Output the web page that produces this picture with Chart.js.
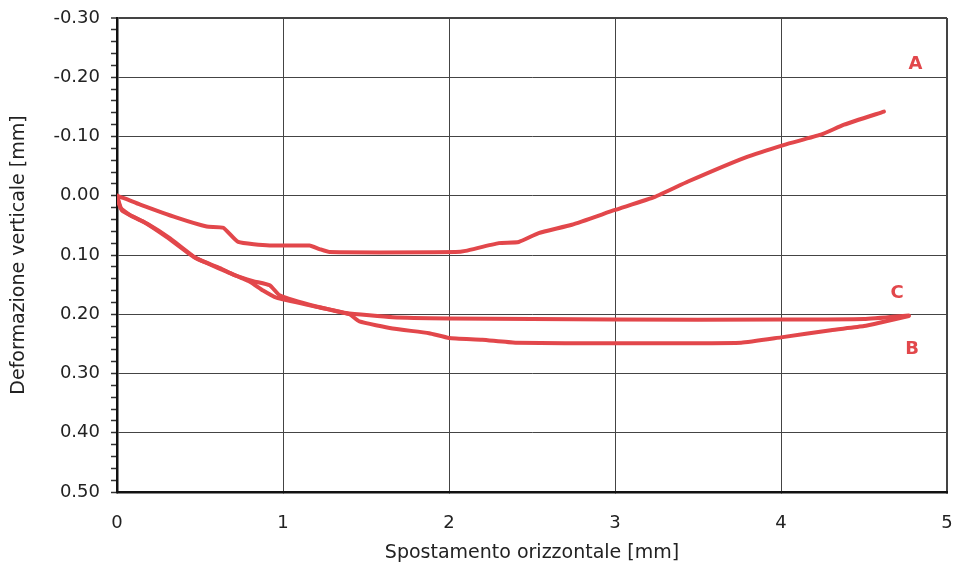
<!DOCTYPE html>
<html>
<head>
<meta charset="utf-8">
<script src="https://cdn.jsdelivr.net/npm/chart.js@4/dist/chart.umd.min.js"></script>
<style>
  html, body { margin: 0; padding: 0; background: #fff; }
  #wrap { width: 968px; height: 569px; position: relative; }
</style>
</head>
<body>
<div id="wrap"><canvas id="chart"></canvas></div>
<script>
// curve A (upper)
const xA = [0, 0.05, 0.14, 0.36, 0.54, 0.64, 0.73, 0.92, 1.16, 1.22, 1.28, 2.04, 2.1, 2.3, 2.42, 2.54, 2.74, 3.0, 3.24, 3.44, 3.78, 4.02, 4.24, 4.38, 4.62];
const yA = [0, 0.005, 0.015, 0.037, 0.052, 0.054, 0.078, 0.084, 0.084, 0.09, 0.095, 0.095, 0.093, 0.080, 0.078, 0.063, 0.049, 0.024, 0.002, -0.024, -0.064, -0.086, -0.103, -0.120, -0.142];

// curve B (lower)
const xB = [0, 0.02, 0.08, 0.16, 0.30, 0.46, 0.56, 0.66, 0.80, 0.88, 0.96, 1.16, 1.30, 1.40, 1.46, 1.66, 1.88, 2.0, 2.2, 2.4, 3.0, 3.76, 4.0, 4.3, 4.5, 4.6, 4.77];
const yB = [0, 0.02, 0.033, 0.044, 0.070, 0.103, 0.116, 0.128, 0.145, 0.160, 0.172, 0.185, 0.193, 0.200, 0.212, 0.224, 0.232, 0.240, 0.243, 0.248, 0.249, 0.248, 0.239, 0.227, 0.220, 0.214, 0.203];

// curve C (middle)
const xC = [0, 0.03, 0.10, 0.18, 0.32, 0.48, 0.62, 0.70, 0.82, 0.92, 0.98, 1.20, 1.38, 1.66, 2.0, 3.0, 4.0, 4.5, 4.77];
const yC = [0, 0.025, 0.036, 0.047, 0.072, 0.106, 0.122, 0.133, 0.144, 0.151, 0.168, 0.187, 0.198, 0.205, 0.207, 0.209, 0.209, 0.208, 0.202];

// curve letters, in data units
const labelText = ['A', 'C', 'B'];
const labelX = [4.81, 4.70, 4.79];
const labelY = [-0.222, 0.164, 0.26];

const xTicks = [0, 1, 2, 3, 4, 5];

const RED = '#e2474b';
const FONT = "'DejaVu Sans', sans-serif";

function toPoints(xs, ys) {
    return xs.map((x, i) => ({ x: x, y: ys[i] }));
}

function isMajor(v) {
    return Math.abs(Math.round(v * 100)) % 10 === 0;
}

const curveLabels = {
    id: 'curveLabels',
    afterDatasetsDraw(chart) {
        const ctx = chart.ctx;
        const sx = chart.scales.x, sy = chart.scales.y;
        ctx.save();
        ctx.fillStyle = RED;
        ctx.font = "bold 18px " + FONT;
        ctx.textAlign = 'center';
        ctx.textBaseline = 'middle';
        labelText.forEach((t, i) => {
            ctx.fillText(t, sx.getPixelForValue(labelX[i]), sy.getPixelForValue(labelY[i]));
        });
        ctx.restore();
    }
};

const lineStyle = {
    showLine: true,
    borderColor: RED,
    backgroundColor: RED,
    borderWidth: 4,
    pointRadius: 0,
    tension: 0.15,
    borderCapStyle: 'round',
    borderJoinStyle: 'round'
};

new Chart(document.getElementById('chart').getContext('2d'), {
    type: 'scatter',
    data: {
        datasets: [
            Object.assign({ label: 'A', data: toPoints(xA, yA) }, lineStyle),
            Object.assign({ label: 'B', data: toPoints(xB, yB) }, lineStyle),
            Object.assign({ label: 'C', data: toPoints(xC, yC) }, lineStyle)
        ]
    },
    options: {
        responsive: true,
        maintainAspectRatio: false,
        animation: false,
        layout: { padding: { top: 18, right: 21, left: 0, bottom: 0 } },
        plugins: {
            legend: { display: false },
            tooltip: { enabled: false }
        },
        scales: {
            x: {
                type: 'linear',
                min: 0,
                max: 5,
                afterBuildTicks: (scale) => { scale.ticks = xTicks.map(v => ({ value: v })); },
                afterFit: (scale) => {
                    scale.height = 77;
                    scale.paddingLeft = 0;
                    scale.paddingRight = 0;
                },
                ticks: {
                    color: '#222',
                    font: { family: FONT, size: 18 },
                    padding: 21,
                    maxRotation: 0
                },
                grid: {
                    color: '#444',
                    lineWidth: (c) => (c.tick && c.tick.value === 5 ? 2 : 1),
                    tickLength: 0
                },
                border: { color: '#111', width: 2.5 },
                title: {
                    display: true,
                    text: 'Spostamento orizzontale [mm]',
                    color: '#222',
                    font: { family: FONT, size: 19 },
                    padding: { top: 0, bottom: 5 }
                }
            },
            y: {
                type: 'linear',
                reverse: true,
                min: -0.3,
                max: 0.5,
                afterFit: (scale) => {
                    scale.width = 117;
                    scale.paddingTop = 0;
                    scale.paddingBottom = 0;
                },
                ticks: {
                    stepSize: 0.02,
                    autoSkip: false,
                    color: '#222',
                    font: { family: FONT, size: 18 },
                    padding: 11,
                    callback: (v) => (isMajor(v) ? (Math.round(v * 100) / 100).toFixed(2) : '')
                },
                grid: {
                    color: (c) => (c.tick && isMajor(c.tick.value) ? '#444' : 'rgba(0,0,0,0)'),
                    lineWidth: (c) => (c.tick && Math.abs(c.tick.value + 0.3) < 1e-6 ? 2 : 1),
                    tickColor: '#333',
                    tickLength: 6,
                    tickWidth: 1.5
                },
                border: { color: '#111', width: 2.5 },
                title: {
                    display: true,
                    text: 'Deformazione verticale [mm]',
                    color: '#222',
                    font: { family: FONT, size: 19 },
                    padding: { top: 8, bottom: 0 }
                }
            }
        }
    },
    plugins: [curveLabels]
});
</script>
</body>
</html>
